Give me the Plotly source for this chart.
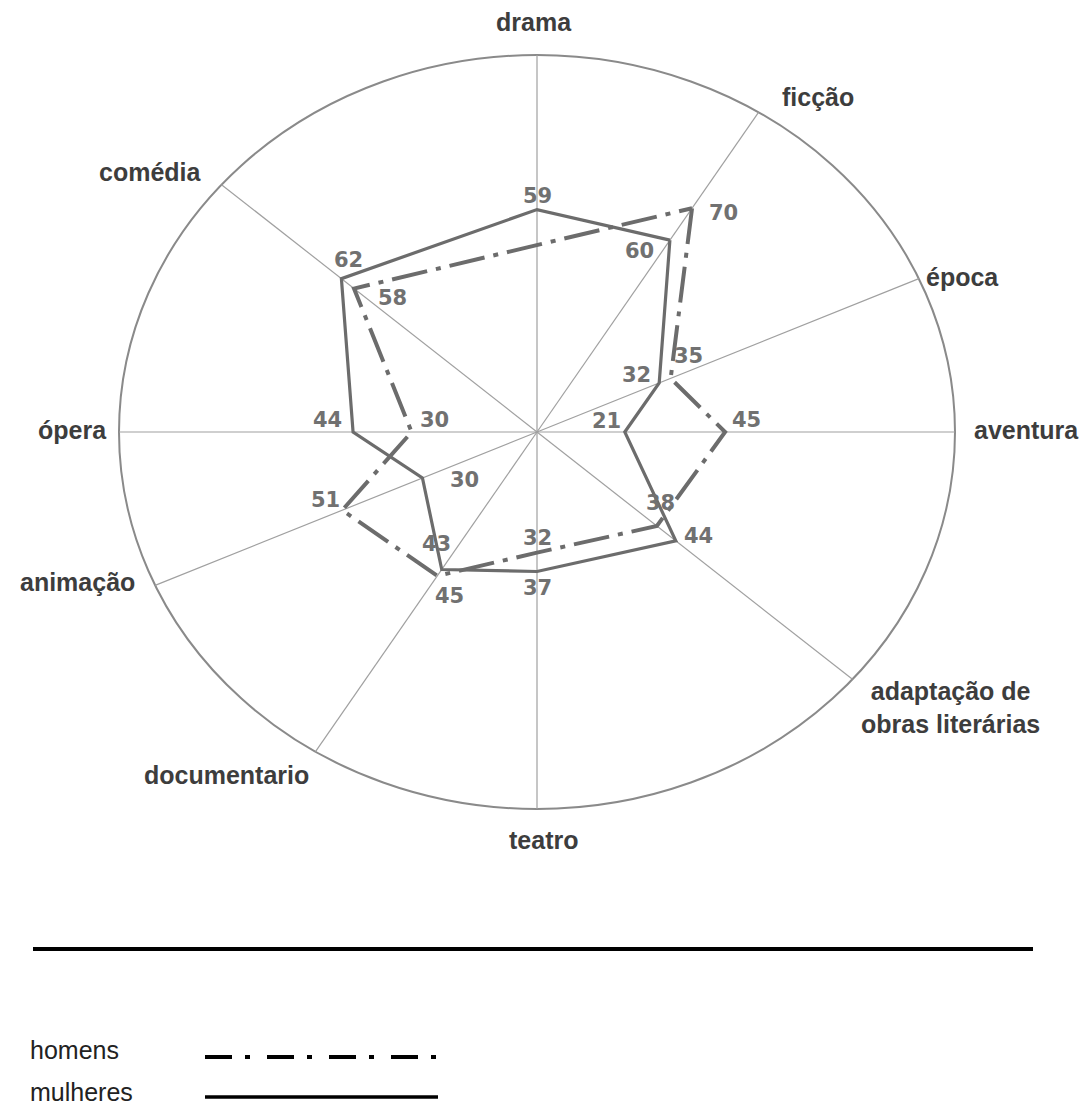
import math
import plotly.graph_objects as go

# ---------------- data ----------------
categories = ["drama", "ficção", "época", "aventura", "adaptação de<br>obras literárias",
              "teatro", "documentario", "animação", "ópera", "comédia"]
mulheres = [59, 60, 32, 21, 44, 37, 43, 30, 44, 62]
homens = [None, 70, 35, 45, 38, 32, 45, 51, 30, 58]
series_names = ["homens", "mulheres"]

# ---------------- layout constants ----------------
W, H = 1090, 1108
R_MAX = 100                        # value at the outer ellipse
spoke_angles = [90, 58, 24, 0, -41, -90, 238, 204, 180, 139]   # degrees
CX, CY = 537, 432                  # centre in pixels
RX_PX, RY_PX = 418, 377            # ellipse radii in pixels

x_range = [-CX / RX_PX * R_MAX, (W - CX) / RX_PX * R_MAX]
y_range = [-(H - CY) / RY_PX * R_MAX, CY / RY_PX * R_MAX]

# label offsets in pixels (dx right, dy down) relative to the point
off_m = [(0, -14), (-30, 11), (-23, -8), (-18, -11), (23, -5), (0, 17), (-5, -25), (42, 2), (-26, -12), (7, -19)]
off_h = [None, (31, 5), (18, -22), (21, -12), (4, -23), (0, -15), (12, 20), (-17, -10), (23, -12), (38, 9)]

cat_pos_px = [(534, 22), (818, 97), (962, 277), (1026, 430), (950, 707),
              (543, 840), (226, 775), (77, 582), (72, 430), (150, 172)]

LINE_GREY = "#6c6c6c"
LABEL_GREY = "#717171"


def xy(vals):
    xs, ys = [], []
    for v, a in zip(vals, spoke_angles):
        if v is None:
            xs.append(None); ys.append(None)
        else:
            t = math.radians(a)
            xs.append(v * math.cos(t)); ys.append(v * math.sin(t))
    return xs, ys


order = list(range(1, len(categories))) + [0, 1]   # closed loop

fig = go.Figure()

for name, vals, dash, width in [("mulheres", mulheres, "solid", 3.2),
                                ("homens", homens, "36px,9px,5px,9px", 4)]:
    xs, ys = xy(vals)
    fig.add_trace(go.Scatter(
        x=[xs[i] for i in order], y=[ys[i] for i in order],
        mode="lines", name=name, connectgaps=True,
        line=dict(color=LINE_GREY, width=width, dash=dash),
        hoverinfo="skip", showlegend=False))

shapes = []
# outer ellipse
shapes.append(dict(type="circle", xref="x", yref="y", x0=-R_MAX, x1=R_MAX, y0=-R_MAX, y1=R_MAX,
                   line=dict(color="#8a8a8a", width=2), layer="below"))
# spokes
for a in spoke_angles:
    t = math.radians(a)
    shapes.append(dict(type="line", xref="x", yref="y", x0=0, y0=0,
                       x1=R_MAX * math.cos(t), y1=R_MAX * math.sin(t),
                       line=dict(color="#a0a0a0", width=1.2), layer="below"))
# separator line
shapes.append(dict(type="line", xref="paper", yref="paper", x0=33 / W, x1=1033 / W,
                   y0=1 - 949 / H, y1=1 - 949 / H, line=dict(color="black", width=4)))
# legend lines
shapes.append(dict(type="line", xref="paper", yref="paper", x0=205 / W, x1=442 / W,
                   y0=1 - 1057 / H, y1=1 - 1057 / H,
                   line=dict(color="black", width=4, dash="27px,13px,5px,17px")))
shapes.append(dict(type="line", xref="paper", yref="paper", x0=205 / W, x1=438 / W,
                   y0=1 - 1097 / H, y1=1 - 1097 / H, line=dict(color="black", width=3.5)))

annotations = []
for vals, offs in [(mulheres, off_m), (homens, off_h)]:
    xs, ys = xy(vals)
    for v, x, y, o in zip(vals, xs, ys, offs):
        if v is None:
            continue
        annotations.append(dict(x=x, y=y, xref="x", yref="y", text=str(v), showarrow=False,
                                xanchor="center", yanchor="middle", xshift=o[0], yshift=-o[1],
                                font=dict(family="DejaVu Sans", size=21, color=LABEL_GREY, weight="bold")))

for c, (px, py) in zip(categories, cat_pos_px):
    annotations.append(dict(x=px / W, y=1 - py / H, xref="paper", yref="paper", text=c,
                            showarrow=False, xanchor="center", yanchor="middle",
                            font=dict(family="Liberation Sans", size=25, color="#3d3d3d", weight="bold")))

for name, py in zip(series_names, [1050, 1092]):
    annotations.append(dict(x=28 / W, y=1 - py / H, xref="paper", yref="paper", text=name,
                            showarrow=False, xanchor="left", yanchor="middle",
                            font=dict(family="Liberation Sans", size=25, color="#222222")))

fig.update_layout(
    width=W, height=H, autosize=False,
    margin=dict(l=0, r=0, t=0, b=0),
    paper_bgcolor="white", plot_bgcolor="white",
    xaxis=dict(range=x_range, visible=False, fixedrange=True),
    yaxis=dict(range=y_range, visible=False, fixedrange=True),
    shapes=shapes, annotations=annotations, showlegend=False,
)

fig.write_html("out.html", post_script="document.body.style.margin='0';",
               config={"displayModeBar": False})
